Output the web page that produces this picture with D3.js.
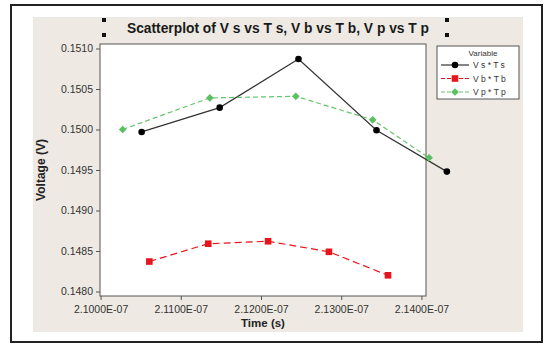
<!DOCTYPE html>
<html><head><meta charset="utf-8">
<script src="https://cdn.jsdelivr.net/npm/d3@7"></script>
<style>body{margin:0;background:#fff}svg{display:block}</style>
</head><body><svg id="c" width="546" height="345"></svg>
<script>
const seriesNames = ["V s * T s", "V b * T b", "V p * T p"];
const timeVs = [2.10512e-7, 2.11485e-7, 2.12467e-7, 2.13440e-7, 2.14317e-7];
const voltVs = [0.14997, 0.15027, 0.15087, 0.14999, 0.14948];
const timeVb = [2.10608e-7, 2.11342e-7, 2.12088e-7, 2.12847e-7, 2.13583e-7];
const voltVb = [0.14837, 0.14859, 0.14862, 0.14849, 0.14820];
const timeVp = [2.10275e-7, 2.11362e-7, 2.12434e-7, 2.13392e-7, 2.14095e-7];
const voltVp = [0.15000, 0.15039, 0.15041, 0.15012, 0.14965];
const xTicks = [2.10e-7, 2.11e-7, 2.12e-7, 2.13e-7, 2.14e-7];
const xTickLabels = ["2.1000E-07", "2.1100E-07", "2.1200E-07", "2.1300E-07", "2.1400E-07"];
const yTicks = [0.1480, 0.1485, 0.1490, 0.1495, 0.1500, 0.1505, 0.1510];
const yTickLabels = ["0.1480", "0.1485", "0.1490", "0.1495", "0.1500", "0.1505", "0.1510"];

const svg = d3.select("#c");
const font = "'Liberation Sans', Arial, sans-serif";
// outer frame + panel
svg.append("rect").attr("x",11).attr("y",5).attr("width",531).attr("height",337)
  .attr("fill","#fff").attr("stroke","#222").attr("stroke-width",2);
svg.append("rect").attr("x",33).attr("y",17).attr("width",490).attr("height",315).attr("fill","#EEEAE3");

const L=100,R=426,T=44,B=296;
const x = d3.scaleLinear().domain([2.1e-7 - 5/70.25*1e-10, 2.14e-7 + 40/70.25*1e-10]).range([L,R]);
const y = d3.scaleLinear().domain([0.1480 - 4.5/40.5*0.0005, 0.1510 + 4.5/40.5*0.0005]).range([B,T]);

svg.append("rect").attr("x",L).attr("y",T).attr("width",R-L).attr("height",B-T)
  .attr("fill","#fff").attr("stroke","#555").attr("stroke-width",1);

const xa = svg.append("g").attr("transform",`translate(0,${B})`)
  .call(d3.axisBottom(x).tickValues(xTicks).tickFormat((d,i)=>xTickLabels[i]).tickSize(4).tickSizeOuter(0));
const ya = svg.append("g").attr("transform",`translate(${L},0)`)
  .call(d3.axisLeft(y).tickValues(yTicks).tickFormat((d,i)=>yTickLabels[i]).tickSize(4).tickSizeOuter(0));
[xa,ya].forEach(a=>{
  a.select(".domain").remove();
  a.selectAll("line").attr("stroke","#555");
  a.selectAll("text").attr("fill","#333").style("font-family",font).style("font-size","10.5px");
});
xa.selectAll("text").attr("dy","0.95em");

// titles
svg.append("text").attr("x",278).attr("y",33).attr("text-anchor","middle")
  .style("font-family",font).style("font-weight","bold").style("font-size","13.8px").attr("fill","#1a1a1a")
  .text("Scatterplot of V s vs T s, V b vs T b, V p vs T p");
svg.append("text").attr("x",263).attr("y",327).attr("text-anchor","middle")
  .style("font-family",font).style("font-weight","bold").style("font-size","11.5px").attr("fill","#222").text("Time (s)");
svg.append("text").attr("transform","translate(45,170) rotate(-90)").attr("text-anchor","middle")
  .style("font-family",font).style("font-weight","bold").style("font-size","12px").attr("fill","#222").text("Voltage (V)");

// little squares
[[104,20],[104,35],[447,20],[447,35]].forEach(p=>svg.append("rect").attr("x",p[0]-2).attr("y",p[1]-2).attr("width",4).attr("height",4).attr("fill","#111"));

const series = [
  {name:seriesNames[0], t:timeVs, v:voltVs, color:"#333", dash:null, marker:"circle"},
  {name:seriesNames[1], t:timeVb, v:voltVb, color:"#E8141B", dash:"7,4", marker:"square"},
  {name:seriesNames[2], t:timeVp, v:voltVp, color:"#66C46C", dash:"5,3", marker:"diamond"}
];
const markerColor = ["#000","#E8141B","#5CC063"];
function drawMarker(g, kind, cx, cy, col){
  if(kind==="circle") g.append("circle").attr("cx",cx).attr("cy",cy).attr("r",3.3).attr("fill",col);
  else if(kind==="square") g.append("rect").attr("x",cx-3.3).attr("y",cy-3.3).attr("width",6.6).attr("height",6.6).attr("fill",col);
  else g.append("path").attr("d",d3.symbol(d3.symbolDiamond2? d3.symbolDiamond2 : d3.symbolDiamond, 38)()).attr("transform",`translate(${cx},${cy})`).attr("fill",col);
}
const line = d3.line().x(d=>x(d[0])).y(d=>y(d[1]));
series.forEach((s,k)=>{
  const pts = s.t.map((t,i)=>[t,s.v[i]]);
  svg.append("path").datum(pts).attr("d",line).attr("fill","none").attr("stroke",s.color)
    .attr("stroke-width",1.2).attr("stroke-dasharray",s.dash);
  const g = svg.append("g");
  pts.forEach(p=>drawMarker(g,s.marker,x(p[0]),y(p[1]),markerColor[k]));
});

// legend
const lg = svg.append("g");
lg.append("rect").attr("x",437).attr("y",46).attr("width",82).attr("height",53).attr("fill","#fff").attr("stroke","#555");
lg.append("text").attr("x",483).attr("y",56).attr("text-anchor","middle").style("font-family",font).style("font-size","8px").attr("fill","#333").text("Variable");
series.forEach((s,k)=>{
  const yy = 65 + k*13.5;
  lg.append("line").attr("x1",441).attr("x2",469).attr("y1",yy).attr("y2",yy).attr("stroke",s.color).attr("stroke-width",1.2).attr("stroke-dasharray",s.dash?"4,2":null);
  drawMarker(lg,s.marker,455,yy,markerColor[k]);
  lg.append("text").attr("x",473).attr("y",yy+3).style("font-family",font).style("font-size","8.5px").attr("fill","#333").text(s.name);
});
</script></body></html>
